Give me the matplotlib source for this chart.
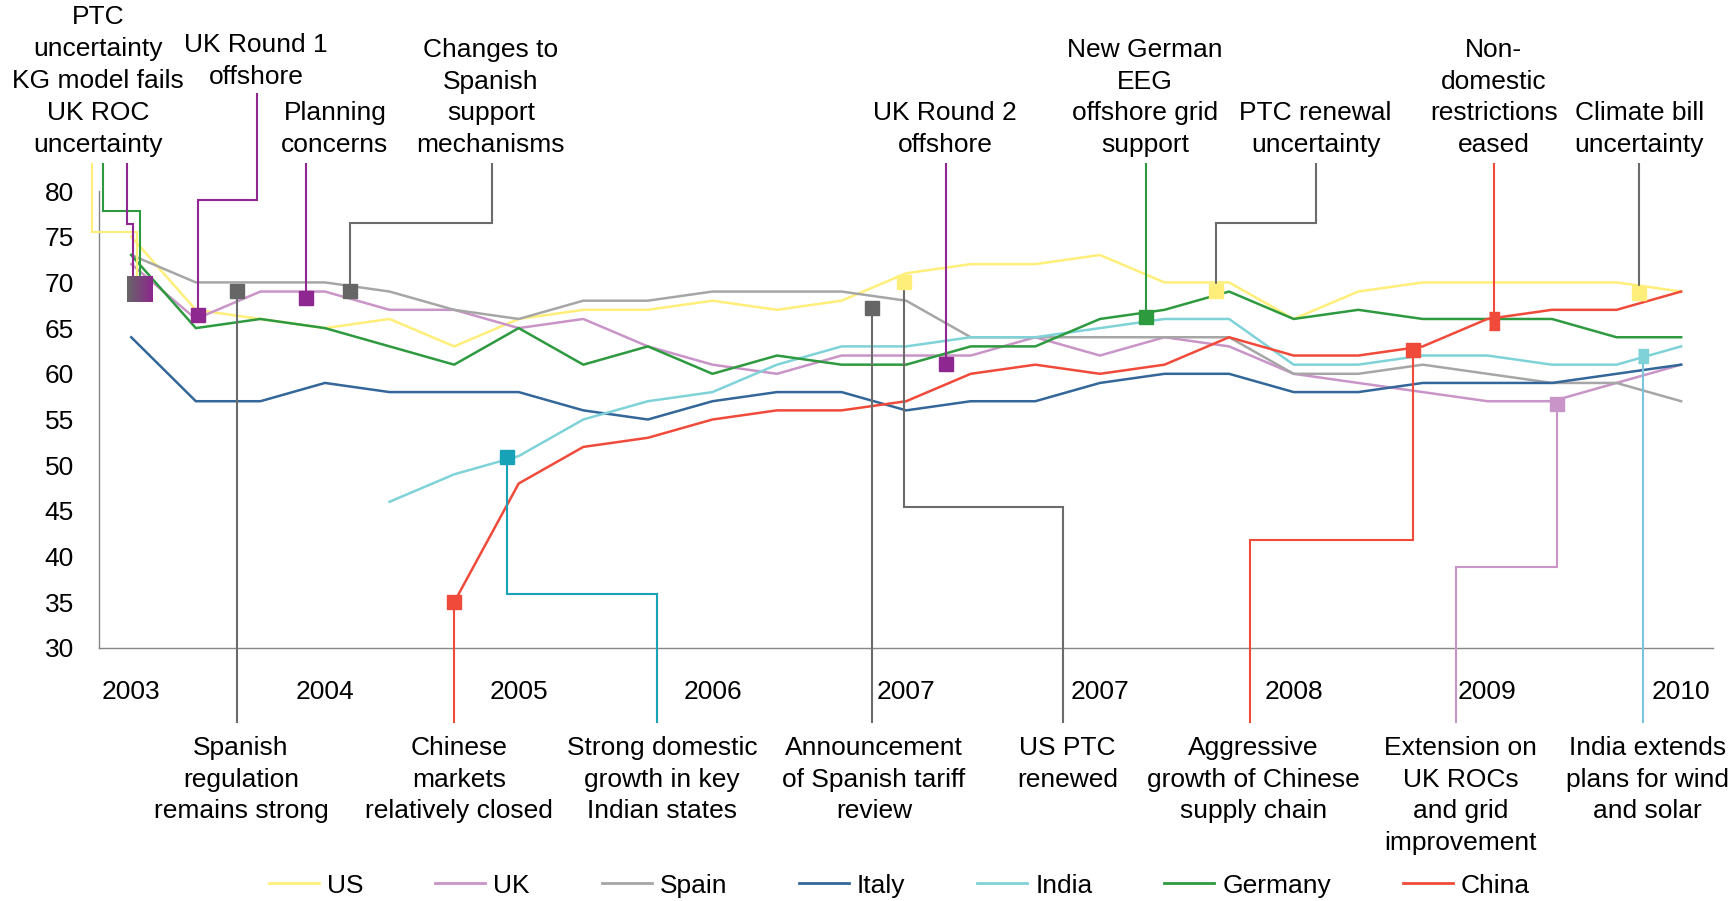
import matplotlib.pyplot as plt
import numpy as np
from matplotlib.colors import LinearSegmentedColormap

plt.rcParams['font.family'] = ['Liberation Sans', 'DejaVu Sans']
plt.rcParams['font.size'] = 19

nan = np.nan

# -- data: 25 periods, three per year --
periods = list(range(25))
year_ticks = [0, 3, 6, 9, 12, 15, 18, 21, 24]
year_labels = ["2003", "2004", "2005", "2006", "2007", "2007", "2008", "2009", "2010"]

us = [75, 67, 66, 65, 66, 63, 66, 67, 67, 68, 67, 68, 71, 72, 72, 73, 70, 70, 66, 69, 70, 70, 70, 70, 69]
uk = [72, 66, 69, 69, 67, 67, 65, 66, 63, 61, 60, 62, 62, 62, 64, 62, 64, 63, 60, 59, 58, 57, 57, 59, 61]
spain = [73, 70, 70, 70, 69, 67, 66, 68, 68, 69, 69, 69, 68, 64, 64, 64, 64, 64, 60, 60, 61, 60, 59, 59, 57]
italy = [64, 57, 57, 59, 58, 58, 58, 56, 55, 57, 58, 58, 56, 57, 57, 59, 60, 60, 58, 58, 59, 59, 59, 60, 61]
india = [nan, nan, nan, nan, 46, 49, 51, 55, 57, 58, 61, 63, 63, 64, 64, 65, 66, 66, 61, 61, 62, 62, 61, 61, 63]
germany = [73, 65, 66, 65, 63, 61, 65, 61, 63, 60, 62, 61, 61, 63, 63, 66, 67, 69, 66, 67, 66, 66, 66, 64, 64]
china = [nan, nan, nan, nan, nan, 35, 48, 52, 53, 55, 56, 56, 57, 60, 61, 60, 61, 64, 62, 62, 63, 66, 67, 67, 69]

series_names = ["US", "UK", "Spain", "Italy", "India", "Germany", "China"]
series_values = [us, uk, spain, italy, india, germany, china]
series_colors = ["#FFEF7A", "#C994C7", "#A6A6A6", "#336699", "#7FD3D8", "#2E9A40", "#F04A3A"]

# -- events: marker position, connector (x at label end, elbow level), label --
ev_labels = ["PTC\nuncertainty", "KG model fails", "UK ROC\nuncertainty",
             "UK Round 1\noffshore", "Planning\nconcerns",
             "Changes to\nSpanish\nsupport\nmechanisms", "UK Round 2\noffshore",
             "New German\nEEG\noffshore grid\nsupport", "PTC renewal\nuncertainty",
             "Non-\ndomestic\nrestrictions\neased", "Climate bill\nuncertainty",
             "Spanish\nregulation\nremains strong", "Chinese\nmarkets\nrelatively closed",
             "Strong domestic\ngrowth in key\nIndian states",
             "Announcement\nof Spanish tariff\nreview", "US PTC\nrenewed",
             "Aggressive\ngrowth of Chinese\nsupply chain",
             "Extension on\nUK ROCs\nand grid\nimprovement",
             "India extends\nplans for wind\nand solar"]
ev_x = [0.088, 0.135, 0.026, 1.033, 2.705, 3.386, 12.615, 15.71, 16.80, 21.10, 23.35,
        1.636, 5.0, 5.82, 11.465, 11.97, 19.85, 22.08, 23.41]
ev_y = [70.6, 70.6, 70.6, 66.4, 68.3, 69.1, 61.1, 66.2, 69.1, 65.8, 68.8,
        69.1, 35.0, 50.9, 67.2, 70.0, 62.6, 56.7, 61.9]
ev_conn_x = [-0.609, -0.438, -0.071, 1.946, 2.705, 5.585, 12.615, 15.71, 18.34, 21.10, 23.35,
             1.636, 5.0, 8.14, 11.465, 14.43, 17.32, 20.51, 23.41]
ev_conn_end = [83.06, 83.06, 83.06, 90.72, 83.06, 83.06, 83.06, 83.06, 83.06, 83.06, 83.06,
               21.79, 21.79, 21.79, 21.79, 21.79, 21.79, 21.79, 21.79]
ev_elbow = [75.51, 77.81, 76.38, 79.02, None, 76.5, None, None, 76.5, None, None,
            None, None, 35.91, None, 45.43, 41.82, 38.86, None]
ev_text_x = [-0.516, -0.516, -0.516, 1.931, 3.154, 5.57, 12.60, 15.70, 18.34, 21.10, 23.35,
             1.699, 5.074, 8.218, 11.50, 14.50, 17.38, 20.59, 23.48]
ev_text_y = [94.77, 91.27, 84.27, 91.71, 84.27, 84.27, 84.27, 84.27, 84.27, 84.27, 84.27,
             20.35, 20.35, 20.35, 20.35, 20.35, 20.35, 20.35, 20.35]
ev_line_color = ["#FFEF7A", "#2E9A40", "#8E278F", "#8E278F", "#8E278F", "#6B6B6B", "#8E278F",
                 "#2E9A40", "#6B6B6B", "#F04A3A", "#6B6B6B",
                 "#6B6B6B", "#F04A3A", "#17A2B8", "#6B6B6B", "#6B6B6B", "#F04A3A",
                 "#C994C7", "#7CC4DA"]
ev_marker_color = [None, None, None, "#8E278F", "#8E278F", "#666666", "#8E278F",
                   "#2E9A40", "#FFEF7A", "#F04A3A", "#FFEF7A",
                   "#666666", "#F04A3A", "#17A2B8", "#666666", "#FFEF7A", "#F04A3A",
                   "#C994C7", "#7FD3D8"]

# combined start-of-2003 marker box (grey to purple)
box_x = [-0.071, 0.331]
box_y = [67.88, 70.62]

narrow = [(-0.27, -0.5), (0.27, -0.5), (0.27, 0.5), (-0.27, 0.5)]
slim = [(-0.37, -0.5), (0.37, -0.5), (0.37, 0.5), (-0.37, 0.5)]

fig = plt.figure(figsize=(17.33, 9.01), dpi=100)
ax = fig.add_axes([0.0571, 0.2808, 0.9316, 0.5072])

handles = []
for name, vals, col in zip(series_names, series_values, series_colors):
    h, = ax.plot(periods, vals, color=col, lw=1.8, label=name, zorder=2)
    handles.append(h)

for i in range(len(ev_labels)):
    if ev_elbow[i] is None:
        xs = [ev_conn_x[i], ev_x[i]]
        ys = [ev_conn_end[i], ev_y[i]]
    else:
        xs = [ev_conn_x[i], ev_conn_x[i], ev_x[i], ev_x[i]]
        ys = [ev_conn_end[i], ev_elbow[i], ev_elbow[i], ev_y[i]]
    ax.plot(xs, ys, color=ev_line_color[i], lw=1.5, clip_on=False, zorder=4,
            solid_capstyle='butt', solid_joinstyle='miter')
    if ev_marker_color[i] is not None:
        mk = 's'
        ms = 10
        if ev_labels[i].startswith("Non-"):
            mk, ms = narrow, 12.5
        elif ev_labels[i].startswith("India"):
            mk, ms = slim, 10
        ax.plot(ev_x[i], ev_y[i], marker=mk, ms=ms, color=ev_marker_color[i],
                ls='none', clip_on=False, zorder=5)
    top = ev_text_y[i] > 80
    ax.text(ev_text_x[i], ev_text_y[i], ev_labels[i], ha='center',
            va='baseline' if top else 'top', multialignment='center',
            linespacing=1.4, zorder=6)

cmap = LinearSegmentedColormap.from_list("box", ["#666666", "#8E278F"])
ax.imshow(np.linspace(0, 1, 60).reshape(1, -1), cmap=cmap, aspect='auto',
          extent=[box_x[0], box_x[1], box_y[0], box_y[1]], zorder=5)

ax.set_xlim(-0.5, 24.5)
ax.set_ylim(30, 80)
ax.set_yticks(range(30, 81, 5))
ax.set_xticks(year_ticks)
ax.set_xticklabels(year_labels)
ax.tick_params(axis='x', length=0, pad=23)
ax.tick_params(axis='y', length=0, pad=18)
for s in ["top", "right"]:
    ax.spines[s].set_visible(False)
for s in ["left", "bottom"]:
    ax.spines[s].set_color("#868686")
    ax.spines[s].set_linewidth(1.0)

leg = fig.legend(handles, series_names, loc='center', bbox_to_anchor=(0.519, 0.017),
                 ncol=7, frameon=False, handlelength=1.9, handletextpad=0.3,
                 columnspacing=2.72, borderaxespad=0, borderpad=0)
for ln in leg.get_lines():
    ln.set_linewidth(2.0)

fig.savefig("out.png", dpi=100)
